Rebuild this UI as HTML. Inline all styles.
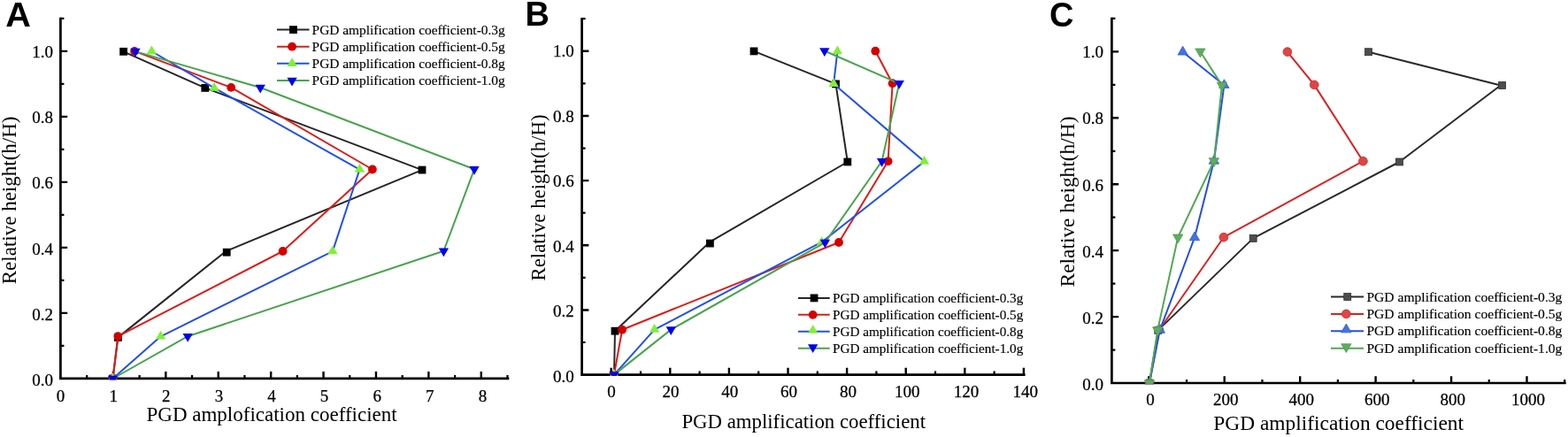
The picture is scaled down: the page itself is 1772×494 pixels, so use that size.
<!DOCTYPE html>
<html><head><meta charset="utf-8"><title>PGD amplification coefficient</title>
<style>html,body{margin:0;padding:0;background:#fff;}svg{display:block;}</style></head>
<body>
<svg width="1772" height="494" viewBox="0 0 1772 494" font-family="'Liberation Serif','Times New Roman',serif" fill="#000">
<style>.t{stroke:#000;stroke-width:0.25px;}.l{stroke:#000;stroke-width:0.15px;}</style>
<rect width="1772" height="494" fill="#fff"/>
<path d="M68.4 19.8V429.25M67.05 427.9H575.3" stroke="#000" stroke-width="2.7" fill="none"/>
<path d="M68.4 353.9H76.2M68.4 279.9H76.2M68.4 205.9H76.2M68.4 131.9H76.2M68.4 57.9H76.2" stroke="#000" stroke-width="2.4"/>
<path d="M68.4 390.9H72.4M68.4 316.9H72.4M68.4 242.9H72.4M68.4 168.9H72.4M68.4 94.9H72.4M68.4 20.9H72.4" stroke="#000" stroke-width="2.2"/>
<path d="M127.91 427.9V420.1M187.32 427.9V420.1M246.73 427.9V420.1M306.14 427.9V420.1M365.55 427.9V420.1M424.96 427.9V420.1M484.37 427.9V420.1M543.78 427.9V420.1" stroke="#000" stroke-width="2.4"/>
<path d="M98.2 427.9V423.9M157.62 427.9V423.9M217.02 427.9V423.9M276.44 427.9V423.9M335.84 427.9V423.9M395.25 427.9V423.9M454.66 427.9V423.9M514.08 427.9V423.9M573.48 427.9V423.9" stroke="#000" stroke-width="2.2"/>
<clipPath id="ca"><rect x="68.4" y="0" width="512.9" height="429.25"/></clipPath>
<g clip-path="url(#ca)">
<polyline points="139.6,58.3 231.8,99.4 477,192.1 255.6,283.8 133.4,381.4 127.5,428" fill="none" stroke="#262626" stroke-width="2.0" stroke-linejoin="round"/>
<rect x="135.2" y="53.9" width="8.8" height="8.8" fill="#000000"/>
<rect x="227.4" y="95" width="8.8" height="8.8" fill="#000000"/>
<rect x="472.6" y="187.7" width="8.8" height="8.8" fill="#000000"/>
<rect x="251.8" y="280.8" width="8.8" height="8.8" fill="#000000"/>
<rect x="129" y="377" width="8.8" height="8.8" fill="#000000"/>
<rect x="123.1" y="423.6" width="8.8" height="8.8" fill="#000000"/>
<polyline points="152,57.9 261.2,98.9 420.9,191.5 319.6,284 133.3,380.1 127.5,428" fill="none" stroke="#dc1c16" stroke-width="2.0" stroke-linejoin="round"/>
<circle cx="152" cy="57.9" r="4.9" fill="#d40000"/>
<circle cx="261.2" cy="98.9" r="4.9" fill="#d40000"/>
<circle cx="420.9" cy="191.5" r="4.9" fill="#d40000"/>
<circle cx="319.6" cy="284" r="4.9" fill="#d40000"/>
<circle cx="133.3" cy="380.1" r="4.9" fill="#d40000"/>
<circle cx="127.5" cy="428" r="4.9" fill="#d40000"/>
<polyline points="171.4,58 242.1,99.4 406.4,191.6 375.9,284.1 181.6,380.3 127.5,428" fill="none" stroke="#2150ec" stroke-width="2.0" stroke-linejoin="round"/>
<polygon points="171.4,51.48 165.75,61.26 177.05,61.26" fill="#80f038"/>
<polygon points="242.1,92.88 236.45,102.66 247.75,102.66" fill="#80f038"/>
<polygon points="406.4,185.08 400.75,194.86 412.05,194.86" fill="#80f038"/>
<polygon points="375.9,277.58 370.25,287.36 381.55,287.36" fill="#80f038"/>
<polygon points="181.6,373.78 175.95,383.56 187.25,383.56" fill="#80f038"/>
<polygon points="127.5,421.48 121.85,431.26 133.15,431.26" fill="#80f038"/>
<polyline points="153,58.1 294.2,99 536,191.3 501.4,283.7 212.2,380.2 127.5,428" fill="none" stroke="#48a44c" stroke-width="2.0" stroke-linejoin="round"/>
<polygon points="153,64.62 147.35,54.84 158.65,54.84" fill="#0000f0"/>
<polygon points="294.2,105.52 288.55,95.74 299.85,95.74" fill="#0000f0"/>
<polygon points="536,197.82 530.35,188.04 541.65,188.04" fill="#0000f0"/>
<polygon points="501.4,290.22 495.75,280.44 507.05,280.44" fill="#0000f0"/>
<polygon points="212.2,386.72 206.55,376.94 217.85,376.94" fill="#0000f0"/>
<polygon points="127.5,434.52 121.85,424.74 133.15,424.74" fill="#0000f0"/>
</g>
<text x="60" y="436.05" text-anchor="end" font-size="19" class="t">0.0</text>
<text x="60" y="361.78" text-anchor="end" font-size="19" class="t">0.2</text>
<text x="60" y="287.51" text-anchor="end" font-size="19" class="t">0.4</text>
<text x="60" y="213.24" text-anchor="end" font-size="19" class="t">0.6</text>
<text x="60" y="138.97" text-anchor="end" font-size="19" class="t">0.8</text>
<text x="60" y="64.7" text-anchor="end" font-size="19" class="t">1.0</text>
<text x="68.6" y="453.6" text-anchor="middle" font-size="19" class="t">0</text>
<text x="128.2" y="453.6" text-anchor="middle" font-size="19" class="t">1</text>
<text x="187.8" y="453.6" text-anchor="middle" font-size="19" class="t">2</text>
<text x="247.4" y="453.6" text-anchor="middle" font-size="19" class="t">3</text>
<text x="307" y="453.6" text-anchor="middle" font-size="19" class="t">4</text>
<text x="366.6" y="453.6" text-anchor="middle" font-size="19" class="t">5</text>
<text x="426.2" y="453.6" text-anchor="middle" font-size="19" class="t">6</text>
<text x="485.8" y="453.6" text-anchor="middle" font-size="19" class="t">7</text>
<text x="545.4" y="453.6" text-anchor="middle" font-size="19" class="t">8</text>
<text x="165.5" y="476.3" font-size="23">PGD amplofication coefficient</text>
<text transform="translate(18.3 226.4) rotate(-90)" text-anchor="middle" font-size="23">Relative height(h/H)</text>
<text transform="translate(6.2 29.8) scale(1.045 1)" font-family="'Liberation Sans',Arial,sans-serif" font-weight="bold" font-size="38">A</text>
<path d="M313 33.6H349.5" stroke="#262626" stroke-width="2.0"/>
<rect x="327.05" y="29.2" width="8.8" height="8.8" fill="#000000"/>
<text x="352.6" y="39" font-size="15.4" class="l">PGD amplification coefficient-0.3g</text>
<path d="M313 52.7H349.5" stroke="#dc1c16" stroke-width="2.0"/>
<circle cx="330.05" cy="52.7" r="4.9" fill="#d40000"/>
<text x="352.6" y="58.1" font-size="15.4" class="l">PGD amplification coefficient-0.5g</text>
<path d="M313 71.8H349.5" stroke="#2150ec" stroke-width="2.0"/>
<polygon points="330.05,65.28 324.4,75.06 335.7,75.06" fill="#80f038"/>
<text x="352.6" y="77.2" font-size="15.4" class="l">PGD amplification coefficient-0.8g</text>
<path d="M313 90.9H349.5" stroke="#48a44c" stroke-width="2.0"/>
<polygon points="330.05,97.42 324.4,87.64 335.7,87.64" fill="#0000f0"/>
<text x="352.6" y="96.3" font-size="15.4" class="l">PGD amplification coefficient-1.0g</text>
<path d="M657.6 20.12V424.95M656.25 423.6H1158.6" stroke="#000" stroke-width="2.7" fill="none"/>
<path d="M657.6 350.44H665.4M657.6 277.28H665.4M657.6 204.12H665.4M657.6 130.96H665.4M657.6 57.8H665.4" stroke="#000" stroke-width="2.4"/>
<path d="M657.6 387.02H661.6M657.6 313.86H661.6M657.6 240.7H661.6M657.6 167.54H661.6M657.6 94.38H661.6M657.6 21.22H661.6" stroke="#000" stroke-width="2.2"/>
<path d="M690.7 423.6V415.8M757.3 423.6V415.8M823.9 423.6V415.8M890.5 423.6V415.8M957.1 423.6V415.8M1023.7 423.6V415.8M1090.3 423.6V415.8M1156.9 423.6V415.8" stroke="#000" stroke-width="2.4"/>
<path d="M724 423.6V419.6M790.6 423.6V419.6M857.2 423.6V419.6M923.8 423.6V419.6M990.4 423.6V419.6M1057 423.6V419.6M1123.6 423.6V419.6" stroke="#000" stroke-width="2.2"/>
<clipPath id="cb"><rect x="657.6" y="0" width="507" height="424.95"/></clipPath>
<g clip-path="url(#cb)">
<polyline points="852,57.9 944.5,94.9 957.8,183 802,273.7 695,374.2 694,423.6" fill="none" stroke="#262626" stroke-width="2.0" stroke-linejoin="round"/>
<rect x="847.6" y="53.5" width="8.8" height="8.8" fill="#000000"/>
<rect x="940.1" y="90.5" width="8.8" height="8.8" fill="#000000"/>
<rect x="953.4" y="178.6" width="8.8" height="8.8" fill="#000000"/>
<rect x="798" y="270.7" width="8.8" height="8.8" fill="#000000"/>
<rect x="690.6" y="369.8" width="8.8" height="8.8" fill="#000000"/>
<rect x="689.6" y="419.2" width="8.8" height="8.8" fill="#000000"/>
<polyline points="989.3,57.7 1008.6,94.2 1003.6,182.3 948,274 703.1,372.7 694,423.6" fill="none" stroke="#dc1c16" stroke-width="2.0" stroke-linejoin="round"/>
<circle cx="989.3" cy="57.7" r="4.9" fill="#d40000"/>
<circle cx="1008.6" cy="94.2" r="4.9" fill="#d40000"/>
<circle cx="1003.6" cy="182.3" r="4.9" fill="#d40000"/>
<circle cx="948" cy="274" r="4.9" fill="#d40000"/>
<circle cx="703.1" cy="372.7" r="4.9" fill="#d40000"/>
<circle cx="694" cy="423.6" r="4.9" fill="#d40000"/>
<polyline points="946.4,58 942.1,94.8 1044.5,182.6 928.6,273.7 739.6,372.6 694,423.6" fill="none" stroke="#2150ec" stroke-width="2.0" stroke-linejoin="round"/>
<polygon points="946.4,51.48 940.75,61.26 952.05,61.26" fill="#80f038"/>
<polygon points="942.1,88.28 936.45,98.06 947.75,98.06" fill="#80f038"/>
<polygon points="1044.5,176.08 1038.85,185.86 1050.15,185.86" fill="#80f038"/>
<polygon points="928.6,267.18 922.95,276.96 934.25,276.96" fill="#80f038"/>
<polygon points="739.6,366.08 733.95,375.86 745.25,375.86" fill="#80f038"/>
<polygon points="694,417.08 688.35,426.86 699.65,426.86" fill="#80f038"/>
<polyline points="931.8,57.5 1016.2,94.3 996.6,182.3 932.4,274.1 758.3,372.6 694,423.6" fill="none" stroke="#48a44c" stroke-width="2.0" stroke-linejoin="round"/>
<polygon points="931.8,64.02 926.15,54.24 937.45,54.24" fill="#0000f0"/>
<polygon points="1016.2,100.82 1010.55,91.04 1021.85,91.04" fill="#0000f0"/>
<polygon points="996.6,188.82 990.95,179.04 1002.25,179.04" fill="#0000f0"/>
<polygon points="932.4,280.62 926.75,270.84 938.05,270.84" fill="#0000f0"/>
<polygon points="758.3,379.12 752.65,369.34 763.95,369.34" fill="#0000f0"/>
<polygon points="694,430.12 688.35,420.34 699.65,420.34" fill="#0000f0"/>
</g>
<text x="648.8" y="431.95" text-anchor="end" font-size="19" class="t">0.0</text>
<text x="648.8" y="358.4" text-anchor="end" font-size="19" class="t">0.2</text>
<text x="648.8" y="284.85" text-anchor="end" font-size="19" class="t">0.4</text>
<text x="648.8" y="211.3" text-anchor="end" font-size="19" class="t">0.6</text>
<text x="648.8" y="137.75" text-anchor="end" font-size="19" class="t">0.8</text>
<text x="648.8" y="64.2" text-anchor="end" font-size="19" class="t">1.0</text>
<text x="691.1" y="449.2" text-anchor="middle" font-size="19" class="t">0</text>
<text x="757.92" y="449.2" text-anchor="middle" font-size="19" class="t">20</text>
<text x="824.74" y="449.2" text-anchor="middle" font-size="19" class="t">40</text>
<text x="891.56" y="449.2" text-anchor="middle" font-size="19" class="t">60</text>
<text x="958.38" y="449.2" text-anchor="middle" font-size="19" class="t">80</text>
<text x="1025.2" y="449.2" text-anchor="middle" font-size="19" class="t">100</text>
<text x="1092.02" y="449.2" text-anchor="middle" font-size="19" class="t">120</text>
<text x="1158.84" y="449.2" text-anchor="middle" font-size="19" class="t">140</text>
<text x="770.4" y="483.8" font-size="22.8">PGD amplification coefficient</text>
<text transform="translate(615.7 223.5) rotate(-90)" text-anchor="middle" font-size="22.8">Relative height(h/H)</text>
<text transform="translate(593.6 29.1) scale(1 1)" font-family="'Liberation Sans',Arial,sans-serif" font-weight="bold" font-size="38">B</text>
<path d="M902 336.9H937.7" stroke="#262626" stroke-width="2.0"/>
<rect x="915.65" y="332.5" width="8.8" height="8.8" fill="#000000"/>
<text x="941" y="342.1" font-size="15.2" class="l">PGD amplification coefficient-0.3g</text>
<path d="M902 355.85H937.7" stroke="#dc1c16" stroke-width="2.0"/>
<circle cx="918.65" cy="355.85" r="4.9" fill="#d40000"/>
<text x="941" y="361.05" font-size="15.2" class="l">PGD amplification coefficient-0.5g</text>
<path d="M902 374.8H937.7" stroke="#2150ec" stroke-width="2.0"/>
<polygon points="918.65,366.98 913,376.76 924.3,376.76" fill="#80f038"/>
<text x="941" y="380" font-size="15.2" class="l">PGD amplification coefficient-0.8g</text>
<path d="M902 393.75H937.7" stroke="#48a44c" stroke-width="2.0"/>
<polygon points="918.65,398.97 913,389.19 924.3,389.19" fill="#0000f0"/>
<text x="941" y="398.95" font-size="15.2" class="l">PGD amplification coefficient-1.0g</text>
<path d="M1256.4 19.84V434.35M1255.05 433H1769.7" stroke="#000" stroke-width="2.7" fill="none"/>
<path d="M1256.4 358.08H1264.2M1256.4 283.16H1264.2M1256.4 208.24H1264.2M1256.4 133.32H1264.2M1256.4 58.4H1264.2" stroke="#000" stroke-width="2.4"/>
<path d="M1256.4 395.54H1260.4M1256.4 320.62H1260.4M1256.4 245.7H1260.4M1256.4 170.78H1260.4M1256.4 95.86H1260.4M1256.4 20.94H1260.4" stroke="#000" stroke-width="2.2"/>
<path d="M1298.3 433V425.2M1383.74 433V425.2M1469.18 433V425.2M1554.62 433V425.2M1640.06 433V425.2M1725.5 433V425.2" stroke="#000" stroke-width="2.4"/>
<path d="M1341.02 433V429M1426.46 433V429M1511.9 433V429M1597.34 433V429M1682.78 433V429M1768.22 433V429" stroke="#000" stroke-width="2.2"/>
<clipPath id="cc"><rect x="1256.4" y="0" width="519.3" height="434.35"/></clipPath>
<g clip-path="url(#cc)">
<polyline points="1546.5,58.7 1695.8,96.5 1581.5,183 1416.2,269.4 1308.8,373.4 1299,433" fill="none" stroke="#2a2a2a" stroke-width="2.0" stroke-linejoin="round"/>
<rect x="1542.54" y="54.74" width="7.92" height="7.92" fill="#4d4d4d" stroke="#2e2e2e" stroke-width="0.8"/>
<rect x="1693.64" y="92.54" width="7.92" height="7.92" fill="#4d4d4d" stroke="#2e2e2e" stroke-width="0.8"/>
<rect x="1577.54" y="179.04" width="7.92" height="7.92" fill="#4d4d4d" stroke="#2e2e2e" stroke-width="0.8"/>
<rect x="1412.24" y="265.44" width="7.92" height="7.92" fill="#4d4d4d" stroke="#2e2e2e" stroke-width="0.8"/>
<rect x="1304.84" y="369.44" width="7.92" height="7.92" fill="#4d4d4d" stroke="#2e2e2e" stroke-width="0.8"/>
<rect x="1295.04" y="429.04" width="7.92" height="7.92" fill="#4d4d4d" stroke="#2e2e2e" stroke-width="0.8"/>
<polyline points="1454.9,58.6 1485.2,95.9 1540.4,182.2 1382.9,268.2 1310,373 1299,433" fill="none" stroke="#d82323" stroke-width="2.0" stroke-linejoin="round"/>
<circle cx="1454.9" cy="58.6" r="4.9" fill="#de4545" stroke="#d02a2a" stroke-width="0.8"/>
<circle cx="1485.2" cy="95.9" r="4.9" fill="#de4545" stroke="#d02a2a" stroke-width="0.8"/>
<circle cx="1540.4" cy="182.2" r="4.9" fill="#de4545" stroke="#d02a2a" stroke-width="0.8"/>
<circle cx="1382.9" cy="268.2" r="4.9" fill="#de4545" stroke="#d02a2a" stroke-width="0.8"/>
<circle cx="1310" cy="373" r="4.9" fill="#de4545" stroke="#d02a2a" stroke-width="0.8"/>
<circle cx="1299" cy="433" r="4.9" fill="#de4545" stroke="#d02a2a" stroke-width="0.8"/>
<polyline points="1336.7,58.8 1383.4,96.2 1371.9,182 1350,268.5 1310.8,373.1 1299,433" fill="none" stroke="#2150e0" stroke-width="2.0" stroke-linejoin="round"/>
<polygon points="1336.7,52.28 1331.05,62.06 1342.35,62.06" fill="#4472e0" stroke="#2f5ed8" stroke-width="0.8"/>
<polygon points="1383.4,89.68 1377.75,99.46 1389.05,99.46" fill="#4472e0" stroke="#2f5ed8" stroke-width="0.8"/>
<polygon points="1371.9,175.48 1366.25,185.26 1377.55,185.26" fill="#4472e0" stroke="#2f5ed8" stroke-width="0.8"/>
<polygon points="1350,261.98 1344.35,271.76 1355.65,271.76" fill="#4472e0" stroke="#2f5ed8" stroke-width="0.8"/>
<polygon points="1310.8,366.58 1305.15,376.36 1316.45,376.36" fill="#4472e0" stroke="#2f5ed8" stroke-width="0.8"/>
<polygon points="1299,426.48 1293.35,436.26 1304.65,436.26" fill="#4472e0" stroke="#2f5ed8" stroke-width="0.8"/>
<polyline points="1356.4,58.2 1380.9,96.4 1371.9,182 1331.2,268.3 1308.2,373.1 1299,433" fill="none" stroke="#52a852" stroke-width="2.0" stroke-linejoin="round"/>
<polygon points="1356.4,64.72 1350.75,54.94 1362.05,54.94" fill="#5fab5f" stroke="#4f9f4f" stroke-width="0.8"/>
<polygon points="1380.9,102.92 1375.25,93.14 1386.55,93.14" fill="#5fab5f" stroke="#4f9f4f" stroke-width="0.8"/>
<polygon points="1371.9,188.52 1366.25,178.74 1377.55,178.74" fill="#5fab5f" stroke="#4f9f4f" stroke-width="0.8"/>
<polygon points="1331.2,274.82 1325.55,265.04 1336.85,265.04" fill="#5fab5f" stroke="#4f9f4f" stroke-width="0.8"/>
<polygon points="1308.2,379.62 1302.55,369.84 1313.85,369.84" fill="#5fab5f" stroke="#4f9f4f" stroke-width="0.8"/>
<polygon points="1299,439.52 1293.35,429.74 1304.65,429.74" fill="#5fab5f" stroke="#4f9f4f" stroke-width="0.8"/>
</g>
<text x="1247.1" y="441.15" text-anchor="end" font-size="19" class="t">0.0</text>
<text x="1247.1" y="365.95" text-anchor="end" font-size="19" class="t">0.2</text>
<text x="1247.1" y="290.75" text-anchor="end" font-size="19" class="t">0.4</text>
<text x="1247.1" y="215.55" text-anchor="end" font-size="19" class="t">0.6</text>
<text x="1247.1" y="140.35" text-anchor="end" font-size="19" class="t">0.8</text>
<text x="1247.1" y="65.15" text-anchor="end" font-size="19" class="t">1.0</text>
<text x="1299.9" y="457.9" text-anchor="middle" font-size="19" class="t">0</text>
<text x="1385.34" y="457.9" text-anchor="middle" font-size="19" class="t">200</text>
<text x="1470.78" y="457.9" text-anchor="middle" font-size="19" class="t">400</text>
<text x="1556.22" y="457.9" text-anchor="middle" font-size="19" class="t">600</text>
<text x="1641.66" y="457.9" text-anchor="middle" font-size="19" class="t">800</text>
<text x="1727.1" y="457.9" text-anchor="middle" font-size="19" class="t">1000</text>
<text x="1371.3" y="486" font-size="23.4">PGD amplification coefficient</text>
<text transform="translate(1214.3 228) rotate(-90)" text-anchor="middle" font-size="23.4">Relative height(h/H)</text>
<text transform="translate(1185.9 29.7) scale(1 1)" font-family="'Liberation Sans',Arial,sans-serif" font-weight="bold" font-size="38">C</text>
<path d="M1504 335.5H1541.1" stroke="#2a2a2a" stroke-width="2.0"/>
<rect x="1518.79" y="331.54" width="7.92" height="7.92" fill="#4d4d4d" stroke="#2e2e2e" stroke-width="0.8"/>
<text x="1544.4" y="340.5" font-size="15.6" class="l">PGD amplification coefficient-0.3g</text>
<path d="M1504 354.9H1541.1" stroke="#d82323" stroke-width="2.0"/>
<circle cx="1521.35" cy="354.9" r="4.9" fill="#de4545" stroke="#d02a2a" stroke-width="0.8"/>
<text x="1544.4" y="359.9" font-size="15.6" class="l">PGD amplification coefficient-0.5g</text>
<path d="M1504 374.3H1541.1" stroke="#2150e0" stroke-width="2.0"/>
<polygon points="1521.35,366.08 1515.7,375.86 1527,375.86" fill="#4472e0" stroke="#2f5ed8" stroke-width="0.8"/>
<text x="1544.4" y="379.3" font-size="15.6" class="l">PGD amplification coefficient-0.8g</text>
<path d="M1504 393.7H1541.1" stroke="#52a852" stroke-width="2.0"/>
<polygon points="1521.35,398.52 1515.7,388.74 1527,388.74" fill="#5fab5f" stroke="#4f9f4f" stroke-width="0.8"/>
<text x="1544.4" y="398.7" font-size="15.6" class="l">PGD amplification coefficient-1.0g</text>
</svg>
</body></html>
